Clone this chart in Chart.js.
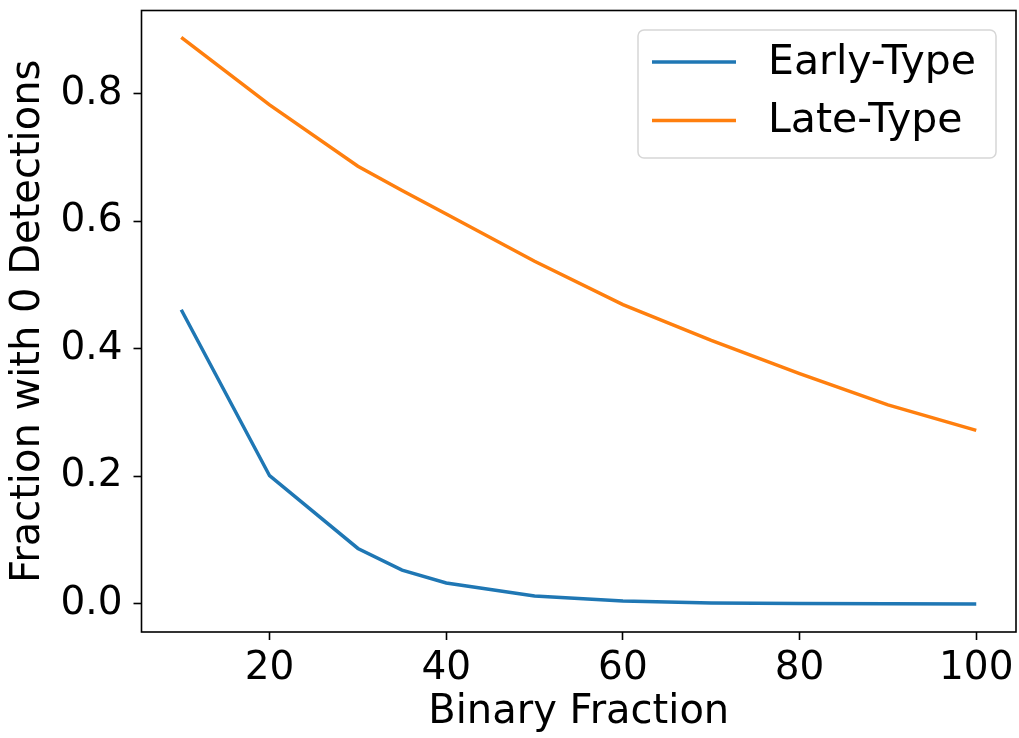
<!DOCTYPE html>
<html>
<head>
<meta charset="utf-8">
<script src="https://cdn.jsdelivr.net/npm/chart.js@4.4.1/dist/chart.umd.min.js"></script>
<style>
  html, body { margin: 0; padding: 0; background: #fff; }
  #wrap { width: 1019px; height: 738px; }
</style>
</head>
<body>
<div id="wrap"><canvas id="chart" width="1019" height="738"></canvas></div>
<script>
// data
const binaryFraction = [10, 20, 30, 35, 40, 50, 60, 70, 80, 90, 100];
const earlyType = [0.461, 0.201, 0.087, 0.053, 0.033, 0.0125, 0.0047, 0.0016, 0.0008, 0.0003, 0.0];
const lateType = [0.888, 0.782, 0.686, 0.648, 0.611, 0.537, 0.469, 0.413, 0.361, 0.312, 0.272];
const xTicks = [20, 40, 60, 80, 100];
const yTicks = [0.0, 0.2, 0.4, 0.6, 0.8];

const FONT = "'DejaVu Sans', sans-serif";

function pts(xs, ys) {
  return xs.map((x, i) => ({ x: x, y: ys[i] }));
}

// box round the plot + matplotlib-like legend inside
const frameAndLegend = {
  id: 'frameAndLegend',
  afterDraw(chart) {
    const ctx = chart.ctx;
    const a = chart.chartArea;
    ctx.save();
    ctx.strokeStyle = '#000';
    ctx.lineWidth = 1.6;
    ctx.strokeRect(a.left, a.top, a.right - a.left, a.bottom - a.top);

    // legend box
    const bx = 638, by = 30, bw = 358, bh = 128, r = 6;
    ctx.beginPath();
    ctx.moveTo(bx + r, by);
    ctx.arcTo(bx + bw, by, bx + bw, by + bh, r);
    ctx.arcTo(bx + bw, by + bh, bx, by + bh, r);
    ctx.arcTo(bx, by + bh, bx, by, r);
    ctx.arcTo(bx, by, bx + bw, by, r);
    ctx.closePath();
    ctx.fillStyle = 'rgba(255,255,255,0.8)';
    ctx.fill();
    ctx.strokeStyle = '#d6d6d6';
    ctx.lineWidth = 1.5;
    ctx.stroke();

    ctx.font = '41px ' + FONT;
    ctx.textBaseline = 'middle';
    ctx.textAlign = 'left';
    chart.data.datasets.forEach((ds, i) => {
      const y = 62 + i * 58.5;
      ctx.strokeStyle = ds.borderColor;
      ctx.lineWidth = 3.5;
      ctx.beginPath();
      ctx.moveTo(652, y);
      ctx.lineTo(736, y);
      ctx.stroke();
      ctx.fillStyle = '#000';
      ctx.fillText(ds.label, 768, y + 1);
    });
    ctx.restore();
  }
};

const config = {
  type: 'line',
  data: {
    datasets: [
      {
        label: 'Early-Type',
        data: pts(binaryFraction, earlyType),
        borderColor: '#1f77b4',
        backgroundColor: '#1f77b4',
        borderWidth: 3.5,
        pointRadius: 0,
        tension: 0,
        fill: false
      },
      {
        label: 'Late-Type',
        data: pts(binaryFraction, lateType),
        borderColor: '#ff7f0e',
        backgroundColor: '#ff7f0e',
        borderWidth: 3.5,
        pointRadius: 0,
        tension: 0,
        fill: false
      }
    ]
  },
  options: {
    responsive: false,
    animation: false,
    devicePixelRatio: 1,
    layout: {
      padding: { left: 0, top: 10.5, right: 3, bottom: 0 }
    },
    plugins: {
      legend: { display: false },
      tooltip: { enabled: false }
    },
    scales: {
      x: {
        type: 'linear',
        min: 5.5,
        max: 104.5,
        afterBuildTicks: (scale) => {
          scale.ticks = xTicks.map(v => ({ value: v }));
        },
        afterFit: (scale) => {
          scale.height = 106;
          scale.paddingLeft = 0;
          scale.paddingRight = 0;
        },
        ticks: {
          color: '#000',
          padding: 5,
          maxRotation: 0,
          font: { family: FONT, size: 39 }
        },
        grid: {
          drawOnChartArea: false,
          drawTicks: true,
          tickLength: 8,
          tickColor: '#000',
          tickWidth: 1.6
        },
        border: { display: false },
        title: {
          display: true,
          text: 'Binary Fraction',
          color: '#000',
          font: { family: FONT, size: 40, lineHeight: 1.2 },
          padding: { top: 0, bottom: 1 }
        }
      },
      y: {
        type: 'linear',
        min: -0.0439,
        max: 0.930,
        afterBuildTicks: (scale) => {
          scale.ticks = yTicks.map(v => ({ value: v }));
        },
        afterFit: (scale) => {
          scale.width = 141.5;
          scale.paddingTop = 0;
          scale.paddingBottom = 0;
        },
        ticks: {
          color: '#000',
          padding: 11,
          font: { family: FONT, size: 39 },
          callback: (v) => Number(v).toFixed(1)
        },
        grid: {
          drawOnChartArea: false,
          drawTicks: true,
          tickLength: 8,
          tickColor: '#000',
          tickWidth: 1.6
        },
        border: { display: false },
        title: {
          display: true,
          text: 'Fraction with 0 Detections',
          color: '#000',
          font: { family: FONT, size: 40, lineHeight: 1.2 },
          padding: { top: 5, bottom: 0 }
        }
      }
    }
  },
  plugins: [frameAndLegend]
};

var myChart = new Chart(document.getElementById('chart'), config);
</script>
</body>
</html>
